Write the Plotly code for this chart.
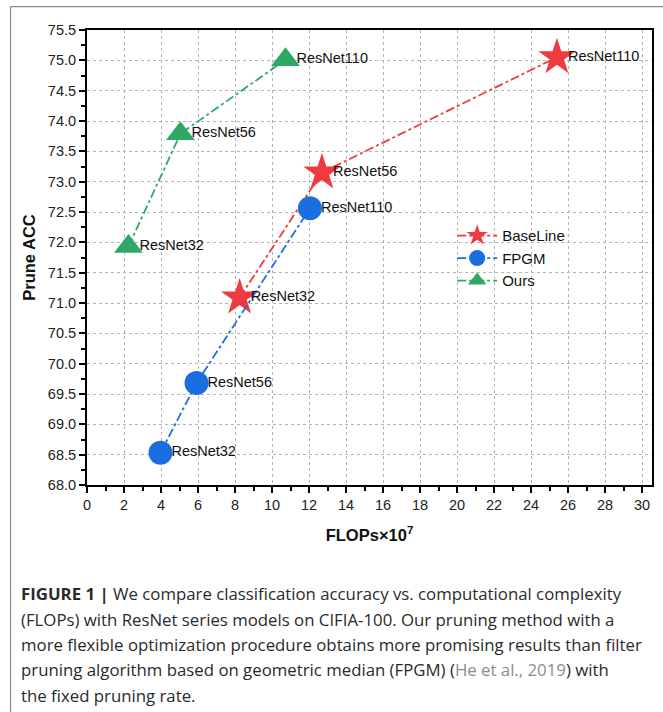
import plotly.graph_objects as go

# ---- data ----
labels = ["ResNet32", "ResNet56", "ResNet110"]
base_x = [8.25, 12.7, 25.4]
base_y = [71.09, 73.15, 75.05]
fpgm_x = [3.97, 5.92, 12.05]
fpgm_y = [68.53, 69.68, 72.56]
ours_x = [2.24, 5.05, 10.73]
ours_y = [71.93, 73.79, 75.01]

series = [
    ("BaseLine", base_x, base_y, "#EF3A3F", "star", 28),
    ("FPGM", fpgm_x, fpgm_y, "#1B6EE0", "circle", 24),
    ("Ours", ours_x, ours_y, "#2FA866", "triangle-up", 25),
]

FONT = "Liberation Sans, Arial, Helvetica"

fig = go.Figure()
for name, xs, ys, col, sym, sz in series:
    fig.add_trace(go.Scatter(
        x=xs, y=ys, name=name, mode="lines+markers",
        line=dict(color=col, width=1.8, dash="dashdot"),
        marker=dict(symbol=sym, size=sz, color=col, line=dict(width=0)),
    ))
for name, xs, ys, col, sym, sz in series:
    fig.add_trace(go.Scatter(
        x=xs, y=ys, mode="markers+text", showlegend=False, hoverinfo="skip",
        text=labels, textposition="middle right",
        textfont=dict(family=FONT, size=14.5, color="#111"),
        marker=dict(size=16, opacity=0),
    ))

axis_common = dict(
    showline=True, linecolor="black", linewidth=2, mirror=True,
    ticks="outside", ticklen=6, tickwidth=2, tickcolor="black",
    showgrid=True, gridcolor="#b4b4b4", griddash="dot", gridwidth=1,
    zeroline=False, automargin=False,
    tickfont=dict(family=FONT, size=14.5, color="#222"),
)

fig.update_xaxes(
    range=[0, 30.54], tick0=0, dtick=2,
    minor=dict(dtick=1, ticks="outside", ticklen=4, tickwidth=1.5, tickcolor="black", showgrid=False),
    title=dict(text="<b>FLOPs×10<sup>7</sup></b>", font=dict(family=FONT, size=16.5, color="#111"), standoff=17),
    **axis_common,
)
fig.update_yaxes(
    range=[68, 75.5], tick0=68, dtick=0.5, tickformat=".1f",
    minor=dict(dtick=0.25, ticks="outside", ticklen=4, tickwidth=1.5, tickcolor="black", showgrid=False),
    title=dict(text="<b>Prune ACC</b>", font=dict(family=FONT, size=16.5, color="#111"), standoff=8),
    **axis_common,
)

caption_lines = [
    "<b>FIGURE 1 |</b> We compare classification accuracy vs. computational complexity",
    "(FLOPs) with ResNet series models on CIFIA-100. Our pruning method with a",
    "more flexible optimization procedure obtains more promising results than filter",
    "pruning algorithm based on geometric median (FPGM) (<span style='color:#8c8c8c'>He et al., 2019</span>) with",
    "the fixed pruning rate.",
]
cap_y = [594, 620, 645, 670, 696]
L, R, T, B = 86.5, 11, 29.5, 227
W, H = 663, 712
pw, ph = W - L - R, H - T - B
annotations = []
for line, yy in zip(caption_lines, cap_y):
    annotations.append(dict(
        text=line, xref="paper", yref="paper",
        x=(18 - L) / pw, y=1 - (yy - T) / ph,
        xanchor="left", yanchor="middle", showarrow=False,
        font=dict(family="Open Sans, Liberation Sans", size=16.8, color="#2a2a2a"),
    ))

shapes = [
    dict(type="line", xref="paper", yref="paper",
         x0=(10 - L) / pw, x1=(663 - L) / pw, y0=1 - (6 - T) / ph, y1=1 - (6 - T) / ph,
         line=dict(color="#8a8a8a", width=1.2)),
    dict(type="line", xref="paper", yref="paper",
         x0=(10 - L) / pw, x1=(10 - L) / pw, y0=1 - (6 - T) / ph, y1=1 - (712 - T) / ph,
         line=dict(color="#8a8a8a", width=1.2)),
]

fig.update_layout(
    width=W, height=H,
    margin=dict(l=L, r=R, t=T, b=B),
    paper_bgcolor="white", plot_bgcolor="white",
    showlegend=True,
    legend=dict(x=(452 - L) / pw, y=1 - (219 - T) / ph, xanchor="left", yanchor="top",
                bgcolor="rgba(0,0,0,0)", tracegroupgap=0,
                font=dict(family=FONT, size=15, color="#111"),
                itemwidth=40),
    annotations=annotations,
    shapes=shapes,
)

fig.write_html("out.html", post_script="document.body.style.margin='0px';",
               config={"displayModeBar": False})
